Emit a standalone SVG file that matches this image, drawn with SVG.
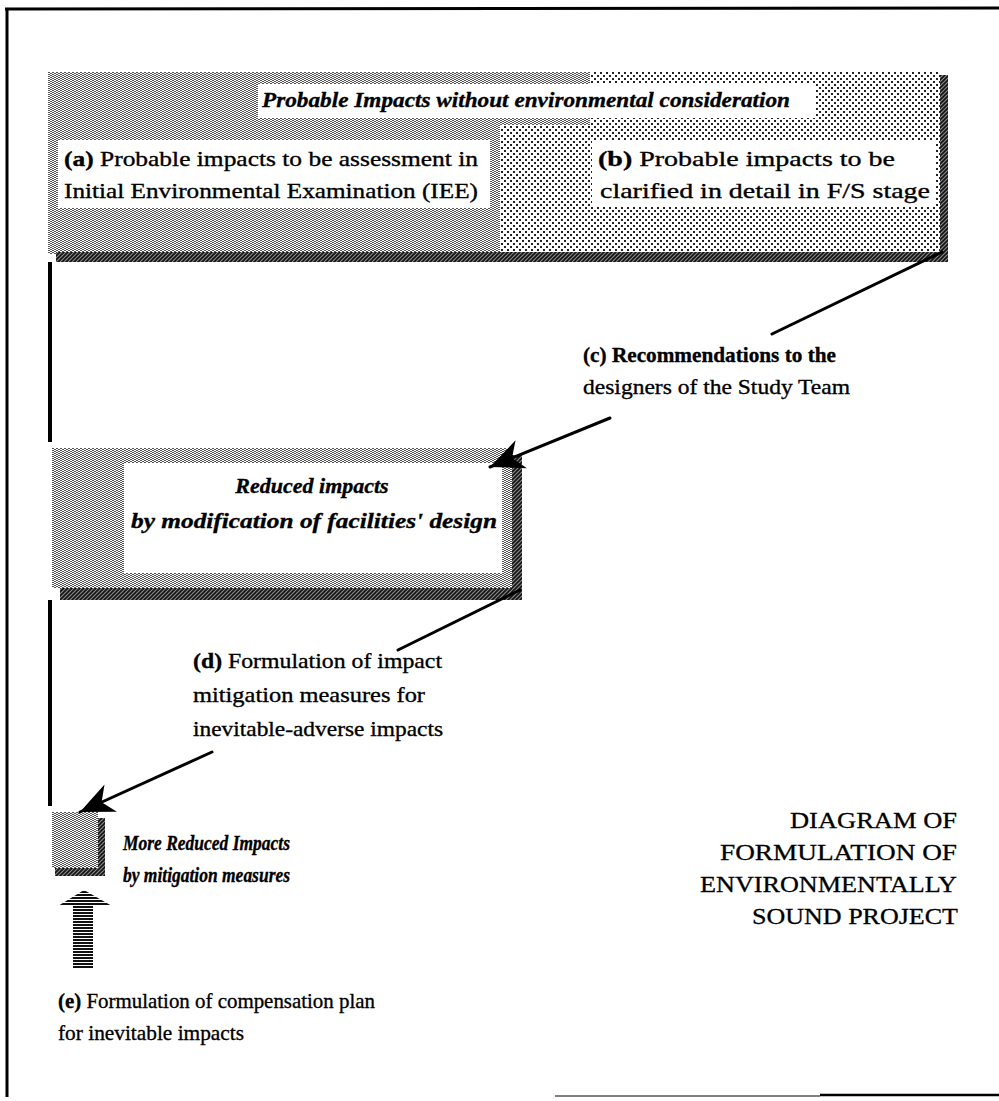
<svg xmlns="http://www.w3.org/2000/svg" width="999" height="1101" viewBox="0 0 999 1101">
  <defs>
    <style>
      .t { font-family: "Liberation Serif", "Times New Roman", serif; font-size: 22px; fill: #000; stroke: #000; stroke-width: 0.35; }
      .bi { font-weight: bold; font-style: italic; }
      .b { font-weight: bold; }
      .small { font-size: 21px; }
      .head { font-size: 24px; stroke-width: 0.3; }
      .conn { stroke: #000; stroke-width: 3; fill: none; stroke-linecap: round; }
      .frame { stroke: #000; fill: none; }
      .vline { fill: #000; }
    </style>
    <!-- fine grey dot screen -->
    <pattern id="fine" width="4" height="2" patternUnits="userSpaceOnUse">
      <rect width="4" height="2" fill="#fff"/>
      <rect x="0" y="0" width="2" height="1" fill="#555"/>
      <rect x="2" y="1" width="2" height="1" fill="#555"/>
    </pattern>
    <!-- coarse dot screen -->
    <pattern id="coarse" width="6" height="6" patternUnits="userSpaceOnUse">
      <rect width="6" height="6" fill="#fff"/>
      <rect x="0" y="0" width="2" height="2" fill="#222"/>
      <rect x="3" y="3" width="2" height="2" fill="#222"/>
    </pattern>
    <!-- dark hatched shadow -->
    <pattern id="dark" width="4" height="4" patternUnits="userSpaceOnUse">
      <rect width="4" height="4" fill="#888"/>
      <path d="M-1,1 L1,-1 M0,4 L4,0 M3,5 L5,3" stroke="#111" stroke-width="1.6"/>
    </pattern>
    <!-- horizontal stripes for the compensation arrow -->
    <pattern id="stripes" width="4" height="3" patternUnits="userSpaceOnUse">
      <rect width="4" height="3" fill="#fff"/>
      <rect x="0" y="0" width="4" height="2" fill="#111"/>
    </pattern>
    <marker id="arrow" markerUnits="userSpaceOnUse" markerWidth="40" markerHeight="40" viewBox="-30 -15 32 30" refX="0" refY="0" orient="auto">
      <path d="M0,0 L-27,-12 L-19,0 L-27,12 Z" fill="#000"/>
    </marker>
  </defs>

  <!-- page frame -->
  <g id="frame">
    <path class="frame" d="M5,9 L999,8" stroke-width="3"/>
    <path class="frame" d="M7,8 L7,1097" stroke-width="3"/>
    <path class="frame" d="M555,1096 L820,1096" stroke-width="1" stroke="#666"/>
    <path class="frame" d="M820,1095 L999,1095" stroke-width="2.5"/>
  </g>

  <!-- top box: probable impacts -->
  <g id="probable-impacts">
    <rect x="48" y="72" width="894" height="182" fill="url(#fine)"/>
    <polygon points="590,72 942,72 942,254 500,254 500,125 590,125" fill="url(#coarse)"/>
    <rect x="940" y="75" width="8" height="187" fill="url(#dark)"/>
    <rect x="56" y="252" width="892" height="10" fill="url(#dark)"/>
    <rect x="258" y="84" width="557" height="34" fill="#fff"/>
    <text class="t bi" x="262" y="107" textLength="528" lengthAdjust="spacingAndGlyphs">Probable Impacts without environmental consideration</text>
  </g>

  <g id="node-a">
    <rect x="58" y="140" width="432" height="68" fill="#fff"/>
    <text class="t" x="64" y="166" textLength="414" lengthAdjust="spacingAndGlyphs"><tspan class="b">(a)</tspan>  Probable impacts to be assessment  in</text>
    <text class="t" x="64" y="198" textLength="414" lengthAdjust="spacingAndGlyphs">Initial Environmental Examination (IEE)</text>
  </g>

  <g id="node-b">
    <rect x="592" y="140" width="343" height="66" fill="#fff"/>
    <text class="t" x="598" y="166" textLength="297" lengthAdjust="spacingAndGlyphs"><tspan class="b">(b)</tspan>  Probable impacts to be</text>
    <text class="t" x="600" y="198" textLength="330" lengthAdjust="spacingAndGlyphs">clarified in detail in F/S stage</text>
  </g>

  <!-- reduced impacts box -->
  <g id="reduced-impacts">
    <rect x="52" y="448" width="460" height="140" fill="url(#fine)"/>
    <rect x="512" y="455" width="10" height="145" fill="url(#dark)"/>
    <rect x="60" y="588" width="462" height="12" fill="url(#dark)"/>
    <rect x="124" y="463" width="378" height="110" fill="#fff"/>
    <text class="t bi" x="312" y="493" text-anchor="middle">Reduced impacts</text>
    <text class="t bi" x="314" y="528" text-anchor="middle" textLength="366" lengthAdjust="spacingAndGlyphs">by modification of facilities' design</text>
  </g>

  <!-- more reduced impacts box -->
  <g id="more-reduced">
    <rect x="52" y="812" width="46" height="56" fill="url(#fine)"/>
    <rect x="98" y="818" width="7" height="58" fill="url(#dark)"/>
    <rect x="55" y="868" width="50" height="8" fill="url(#dark)"/>
    <text class="t bi small" x="123" y="850" textLength="167" lengthAdjust="spacingAndGlyphs">More Reduced Impacts</text>
    <text class="t bi small" x="123" y="882" textLength="167" lengthAdjust="spacingAndGlyphs">by mitigation measures</text>
  </g>

  <!-- compensation arrow and label -->
  <g id="compensation">
    <polygon points="84,890 112,906 58,906" fill="url(#stripes)"/>
    <rect x="73" y="906" width="20" height="62" fill="url(#stripes)"/>
    <text class="t" x="58" y="1008" textLength="317" lengthAdjust="spacingAndGlyphs"><tspan class="b">(e)</tspan>  Formulation of compensation plan</text>
    <text class="t" x="58" y="1040" textLength="186" lengthAdjust="spacingAndGlyphs">for inevitable impacts</text>
  </g>

  <!-- connector labels -->
  <g id="label-c">
    <text class="t b" x="583" y="362" textLength="253" lengthAdjust="spacingAndGlyphs">(c)  Recommendations to the</text>
    <text class="t" x="583" y="394" textLength="267" lengthAdjust="spacingAndGlyphs">designers of the Study Team</text>
  </g>

  <g id="label-d">
    <text class="t" x="193" y="668" textLength="249" lengthAdjust="spacingAndGlyphs"><tspan class="b">(d)</tspan>  Formulation of impact</text>
    <text class="t" x="193" y="702" textLength="232" lengthAdjust="spacingAndGlyphs">mitigation measures for</text>
    <text class="t" x="193" y="736" textLength="250" lengthAdjust="spacingAndGlyphs">inevitable-adverse impacts</text>
  </g>

  <!-- diagram caption -->
  <g id="caption">
    <text class="t head" x="957" y="828" text-anchor="end" textLength="167" lengthAdjust="spacingAndGlyphs">DIAGRAM OF</text>
    <text class="t head" x="957" y="860" text-anchor="end" textLength="237" lengthAdjust="spacingAndGlyphs">FORMULATION OF</text>
    <text class="t head" x="957" y="892" text-anchor="end" textLength="257" lengthAdjust="spacingAndGlyphs">ENVIRONMENTALLY</text>
    <text class="t head" x="958" y="924" text-anchor="end" textLength="206" lengthAdjust="spacingAndGlyphs">SOUND PROJECT</text>
  </g>

  <!-- connectors -->
  <g id="connectors">
    <rect class="vline" x="48" y="262" width="4" height="180"/>
    <rect class="vline" x="48" y="600" width="4" height="206"/>
    <path class="conn" d="M942,252 L772,334"/>
    <path class="conn" d="M610,418 L490,467" marker-end="url(#arrow)"/>
    <path class="conn" d="M520,590 L398,650"/>
    <path class="conn" d="M212,752 L80,812" marker-end="url(#arrow)"/>
  </g>
</svg>
